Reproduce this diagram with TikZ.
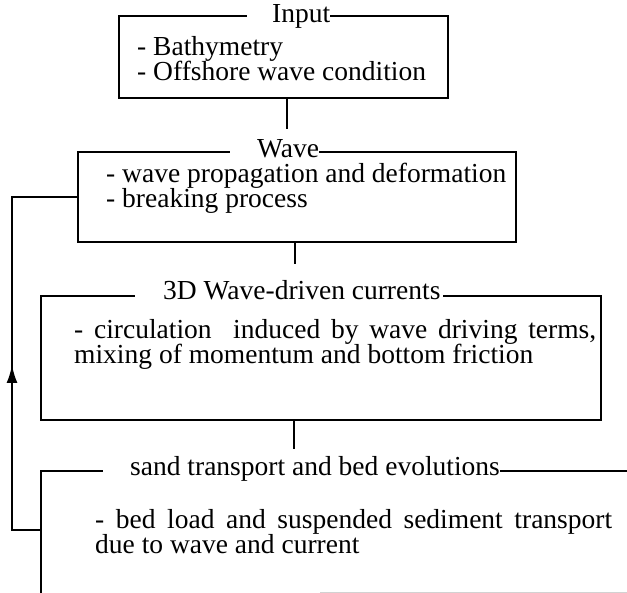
\documentclass[tikz,border=0pt]{standalone}
\usepackage{fontspec}
\setmainfont{Liberation Serif}
\usetikzlibrary{arrows.meta}
\tikzset{
	blockbox/.style={draw, line width=2pt, inner sep=0pt},
	titletxt/.style={fill=white, inner sep=0pt, anchor=base west},
	bodytxt/.style={inner sep=0pt, anchor=base west},
	link/.style={line width=2pt},
}
\begin{document}
\begin{tikzpicture}[x=1pt, y=-1pt, font=\fontsize{27.5}{30}\selectfont]
	\useasboundingbox (0,0) rectangle (627,593);
	\clip (0,0) rectangle (627,593);
	% boxes
	\node[blockbox, minimum width=329pt, minimum height=82pt] (input) at (283.5,57) {};
	\node[blockbox, minimum width=438pt, minimum height=90pt] (wave) at (297,197) {};
	\node[blockbox, minimum width=560pt, minimum height=124pt] (currents) at (321,358) {};
	\node[blockbox, minimum width=620pt, minimum height=169pt] (sand) at (351,555.5) {};
	% titles on the top lines
	\node[titletxt] (inT) at (247,23) {\hspace*{25pt}Input};
	\node[titletxt] (waT) at (230,158) {\hspace*{27pt}Wave};
	\node[titletxt] (cuT) at (135,300) {\hspace*{28pt}3D Wave-driven currents\hspace*{3pt}};
	\node[titletxt] (saT) at (103,476) {\hspace*{27pt}sand transport and bed evolutions};
	% contents
	\node[bodytxt] (inA) at (137,56) {- Bathymetry};
	\node[bodytxt] (inB) at (137,81) {- Offshore wave condition};
	\node[bodytxt] (waA) at (106,183) {- wave propagation and deformation};
	\node[bodytxt] (waB) at (106,208) {- breaking process};
	\node[bodytxt] (cuA) at (74,339) {\makebox[522pt][s]{- circulation\ \ induced by wave driving terms,}};
	\node[bodytxt] (cuB) at (74,364) {mixing of momentum and bottom friction};
	\node[bodytxt] (saA) at (95,529) {\makebox[517pt][s]{- bed load and suspended sediment transport}};
	\node[bodytxt] (saB) at (95,554) {due to wave and current};
	% links
	\draw[link, shorten >=22pt] ([xshift=3.5pt]input.south) -- ([xshift=3.5pt]input.south |- wave.north);
	\draw[link, shorten >=31pt] ([xshift=-2pt]wave.south) -- ([xshift=-2pt]wave.south |- currents.north);
	\draw[link, shorten >=21pt] ([xshift=-27pt]currents.south) -- ([xshift=-27pt]currents.south |- sand.north);
	\coordinate (back) at (12,530);
	\draw[link] (sand.west |- back) -- (back) |- (wave.west);
	\draw[link, -{Latex[length=18pt,width=11pt]}] (back) -- ++(0,-165);
	\draw[gray!35, line width=1pt] (320,592) -- (627,592);
\end{tikzpicture}
\end{document}
